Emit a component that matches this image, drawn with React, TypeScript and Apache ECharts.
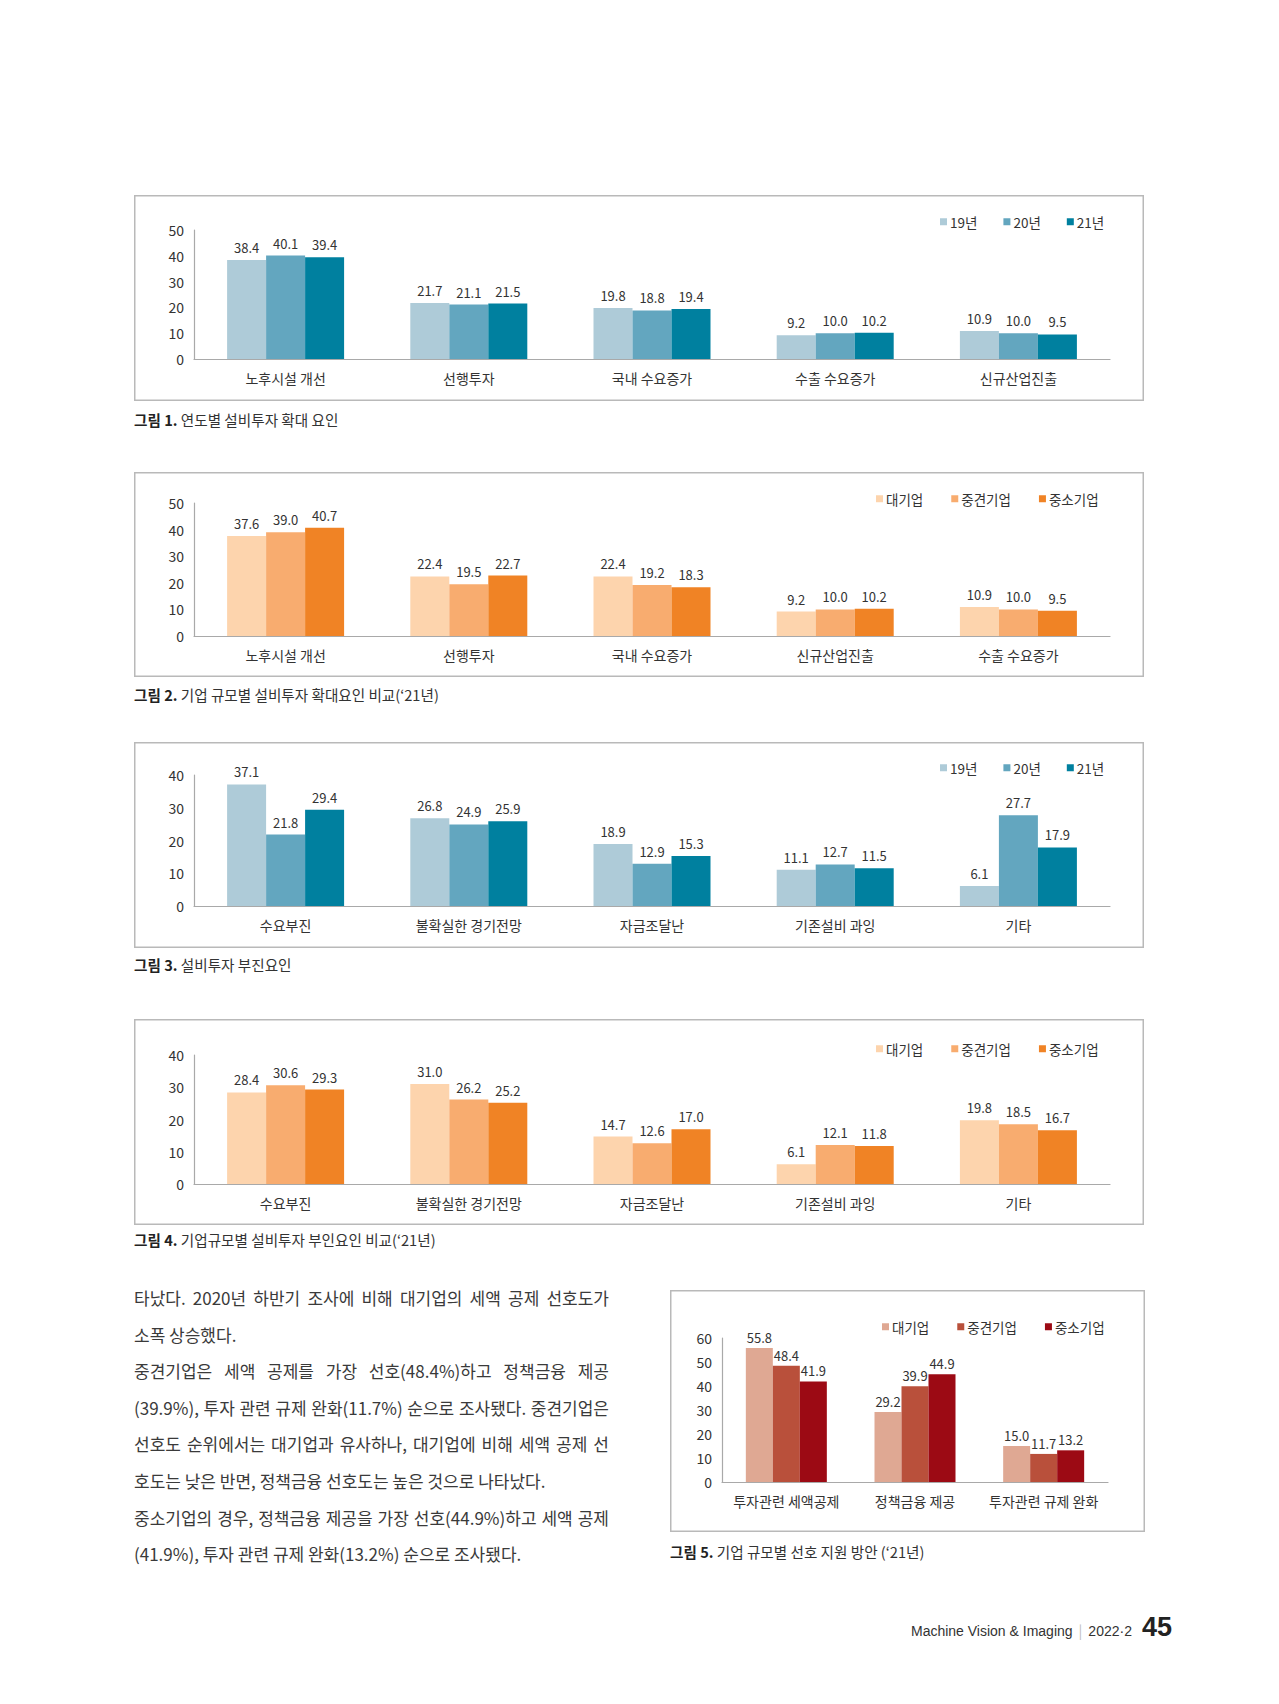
import React, { useEffect, useRef } from "react";
import * as echarts from "echarts";

const FONT = "'Noto Sans CJK KR', 'Noto Sans', sans-serif";

// ---------- data ----------
const yearNames = ["19년", "20년", "21년"];
const sizeNames = ["대기업", "중견기업", "중소기업"];

const fig1Categories = ["노후시설 개선", "선행투자", "국내 수요증가", "수출 수요증가", "신규산업진출"];
const fig1Y19 = [38.4, 21.7, 19.8, 9.2, 10.9];
const fig1Y20 = [40.1, 21.1, 18.8, 10.0, 10.0];
const fig1Y21 = [39.4, 21.5, 19.4, 10.2, 9.5];

const fig2Categories = ["노후시설 개선", "선행투자", "국내 수요증가", "신규산업진출", "수출 수요증가"];
const fig2Large = [37.6, 22.4, 22.4, 9.2, 10.9];
const fig2Mid = [39.0, 19.5, 19.2, 10.0, 10.0];
const fig2Small = [40.7, 22.7, 18.3, 10.2, 9.5];

const fig3Categories = ["수요부진", "불확실한 경기전망", "자금조달난", "기존설비 과잉", "기타"];
const fig3Y19 = [37.1, 26.8, 18.9, 11.1, 6.1];
const fig3Y20 = [21.8, 24.9, 12.9, 12.7, 27.7];
const fig3Y21 = [29.4, 25.9, 15.3, 11.5, 17.9];

const fig4Categories = ["수요부진", "불확실한 경기전망", "자금조달난", "기존설비 과잉", "기타"];
const fig4Large = [28.4, 31.0, 14.7, 6.1, 19.8];
const fig4Mid = [30.6, 26.2, 12.6, 12.1, 18.5];
const fig4Small = [29.3, 25.2, 17.0, 11.8, 16.7];

const fig5Categories = ["투자관련 세액공제", "정책금융 제공", "투자관련 규제 완화"];
const fig5Large = [55.8, 29.2, 15.0];
const fig5Mid = [48.4, 39.9, 11.7];
const fig5Small = [41.9, 44.9, 13.2];

const axisMax = [50, 50, 40, 40, 60];
const tickStep = 10;

const captionNums = ["그림 1.", "그림 2.", "그림 3.", "그림 4.", "그림 5."];
const captionTexts = [
  "연도별 설비투자 확대 요인",
  "기업 규모별 설비투자 확대요인 비교(‘21년)",
  "설비투자 부진요인",
  "기업규모별 설비투자 부인요인 비교(‘21년)",
  "기업 규모별 선호 지원 방안 (‘21년)",
];

const bodyLines = [
  "타났다. 2020년 하반기 조사에 비해 대기업의 세액 공제 선호도가",
  "소폭 상승했다.",
  "중견기업은 세액 공제를 가장 선호(48.4%)하고 정책금융 제공",
  "(39.9%), 투자 관련 규제 완화(11.7%) 순으로 조사됐다. 중견기업은",
  "선호도 순위에서는 대기업과 유사하나, 대기업에 비해 세액 공제 선",
  "호도는 낮은 반면, 정책금융 선호도는 높은 것으로 나타났다.",
  "중소기업의 경우, 정책금융 제공을 가장 선호(44.9%)하고 세액 공제",
  "(41.9%), 투자 관련 규제 완화(13.2%) 순으로 조사됐다.",
];
const bodyJustified = [true, false, true, true, true, false, true, false];

// ---------- styles / layout ----------
const blueColors = ["#aecbd8", "#63a6bf", "#00809f"];
const orangeColors = ["#fdd4ad", "#f8ac6f", "#f08325"];
const redColors = ["#dfa893", "#b9503b", "#9c0a14"];

type Spec = {
  box: { x: number; y: number; w: number; h: number };
  grid: { x: number; y: number; w: number; h: number };
  categories: string[];
  names: string[];
  values: number[][];
  colors: string[];
  yMax: number;
  barWidth: number;
  legendX: number;
  legendY: number;
  legendGap: number;
  labelDist: number;
};

const specs: Spec[] = [
  {
    box: { x: 134, y: 195, w: 1010, h: 206 },
    grid: { x: 194, y: 230, w: 916, h: 129 },
    categories: fig1Categories,
    names: yearNames,
    values: [fig1Y19, fig1Y20, fig1Y21],
    colors: blueColors,
    yMax: axisMax[0],
    barWidth: 39,
    legendX: 940,
    legendY: 223,
    legendGap: 26,
    labelDist: 6,
  },
  {
    box: { x: 134, y: 472, w: 1010, h: 205 },
    grid: { x: 194, y: 503, w: 916, h: 133 },
    categories: fig2Categories,
    names: sizeNames,
    values: [fig2Large, fig2Mid, fig2Small],
    colors: orangeColors,
    yMax: axisMax[1],
    barWidth: 39,
    legendX: 876,
    legendY: 500,
    legendGap: 28,
    labelDist: 6,
  },
  {
    box: { x: 134, y: 742, w: 1010, h: 206 },
    grid: { x: 194, y: 775, w: 916, h: 131 },
    categories: fig3Categories,
    names: yearNames,
    values: [fig3Y19, fig3Y20, fig3Y21],
    colors: blueColors,
    yMax: axisMax[2],
    barWidth: 39,
    legendX: 940,
    legendY: 769,
    legendGap: 26,
    labelDist: 6,
  },
  {
    box: { x: 134, y: 1019, w: 1010, h: 206 },
    grid: { x: 194, y: 1055, w: 916, h: 129 },
    categories: fig4Categories,
    names: sizeNames,
    values: [fig4Large, fig4Mid, fig4Small],
    colors: orangeColors,
    yMax: axisMax[3],
    barWidth: 39,
    legendX: 876,
    legendY: 1050,
    legendGap: 28,
    labelDist: 6,
  },
  {
    box: { x: 670, y: 1290, w: 475, h: 242 },
    grid: { x: 722, y: 1338, w: 386, h: 144 },
    categories: fig5Categories,
    names: sizeNames,
    values: [fig5Large, fig5Mid, fig5Small],
    colors: redColors,
    yMax: axisMax[4],
    barWidth: 27,
    legendX: 882,
    legendY: 1328,
    legendGap: 28,
    labelDist: 4,
  },
];

const captionPos = [
  { x: 134, y: 420 },
  { x: 134, y: 695 },
  { x: 134, y: 965 },
  { x: 134, y: 1240 },
  { x: 670, y: 1552 },
];

function makeOption(s: Spec): any {
  const bx = s.box.x;
  const by = s.box.y;
  const axisLineStyle = { color: "#a9a9a9", width: 1.2 };
  return {
    animation: false,
    textStyle: { fontFamily: FONT },
    graphic: [
      {
        type: "rect",
        silent: true,
        z: -10,
        shape: { x: 0.75, y: 0.75, width: s.box.w - 1.5, height: s.box.h - 1.5 },
        style: { fill: "none", stroke: "#b9b9b9", lineWidth: 1.5 },
      },
    ],
    legend: {
      left: s.legendX - bx,
      top: s.legendY - by - 8,
      padding: 0,
      itemWidth: 7,
      itemHeight: 7,
      itemGap: s.legendGap,
      icon: "rect",
      selectedMode: false,
      textStyle: { fontFamily: FONT, fontSize: 13.5, color: "#333", padding: [0, 0, 0, -2] },
      data: s.names.map((n, i) => ({ name: n, itemStyle: { color: s.colors[i] } })),
    },
    grid: {
      left: s.grid.x - bx,
      top: s.grid.y - by,
      width: s.grid.w,
      height: s.grid.h,
      outerBoundsMode: "none",
    },
    xAxis: {
      type: "category",
      data: s.categories,
      axisLine: { lineStyle: axisLineStyle },
      axisTick: { show: false },
      axisLabel: { fontFamily: FONT, fontSize: 14, color: "#333", margin: 12, interval: 0 },
    },
    yAxis: {
      type: "value",
      min: 0,
      max: s.yMax,
      interval: tickStep,
      axisLine: { show: true, lineStyle: axisLineStyle },
      axisTick: { show: false },
      splitLine: { show: false },
      axisLabel: { fontFamily: FONT, fontSize: 14, color: "#333", margin: 10 },
    },
    series: s.names.map((n, i) => ({
      type: "bar",
      name: n,
      data: s.values[i],
      barWidth: s.barWidth,
      barGap: "0%",
      itemStyle: { color: s.colors[i] },
      label: {
        show: true,
        position: "top",
        distance: s.labelDist,
        fontFamily: FONT,
        fontSize: 13,
        color: "#333",
        formatter: (p: any) => Number(p.value).toFixed(1),
      },
    })),
  };
}

function Chart({ spec }: { spec: Spec }) {
  const ref = useRef<HTMLDivElement>(null);
  useEffect(() => {
    if (!ref.current) return;
    const chart = echarts.init(ref.current, null, { renderer: "svg" });
    chart.setOption(makeOption(spec));
    return () => chart.dispose();
  }, [spec]);
  return (
    <div
      ref={ref}
      style={{
        position: "absolute",
        left: spec.box.x,
        top: spec.box.y,
        width: spec.box.w,
        height: spec.box.h,
      }}
    />
  );
}

export default function App() {
  return (
    <div
      style={{
        position: "absolute",
        left: 0,
        top: 0,
        width: 1279,
        height: 1704,
        background: "#fff",
        fontFamily: FONT,
        color: "#333",
        overflow: "hidden",
      }}
    >
      {specs.map((s, i) => (
        <Chart key={i} spec={s} />
      ))}
      {captionPos.map((p, i) => (
        <div
          key={"cap" + i}
          style={{
            position: "absolute",
            left: p.x,
            top: p.y - 10,
            height: 20,
            lineHeight: "20px",
            fontSize: 14.6,
            whiteSpace: "nowrap",
            color: "#333",
          }}
        >
          <span style={{ fontWeight: 700, color: "#222" }}>{captionNums[i]}</span> {captionTexts[i]}
        </div>
      ))}
      <div
        style={{
          position: "absolute",
          left: 134,
          top: 1280,
          width: 475,
          fontSize: 17,
          lineHeight: "36.6px",
          color: "#3a3a3a",
        }}
      >
        {bodyLines.map((l, i) => (
          <div
            key={"l" + i}
            style={{
              whiteSpace: "nowrap",
              textAlign: bodyJustified[i] ? "justify" : "left",
              textAlignLast: bodyJustified[i] ? "justify" : "left",
              height: "36.6px",
            }}
          >
            {l}
          </div>
        ))}
      </div>
      <div
        style={{
          position: "absolute",
          right: 107,
          top: 1612,
          height: 32,
          display: "flex",
          alignItems: "baseline",
          whiteSpace: "nowrap",
          color: "#333",
        }}
      >
        <span style={{ fontSize: 14, fontFamily: "'Liberation Sans', Arial, sans-serif" }}>Machine Vision &amp; Imaging</span>
        <span style={{ fontSize: 14, color: "#bbb", margin: "0 6px" }}>|</span>
        <span style={{ fontSize: 14, fontFamily: "'Liberation Sans', Arial, sans-serif" }}>2022·2</span>
        <span style={{ fontSize: 27, fontWeight: 700, marginLeft: 10, color: "#222", fontFamily: "'Liberation Sans', Arial, sans-serif" }}>45</span>
      </div>
    </div>
  );
}
